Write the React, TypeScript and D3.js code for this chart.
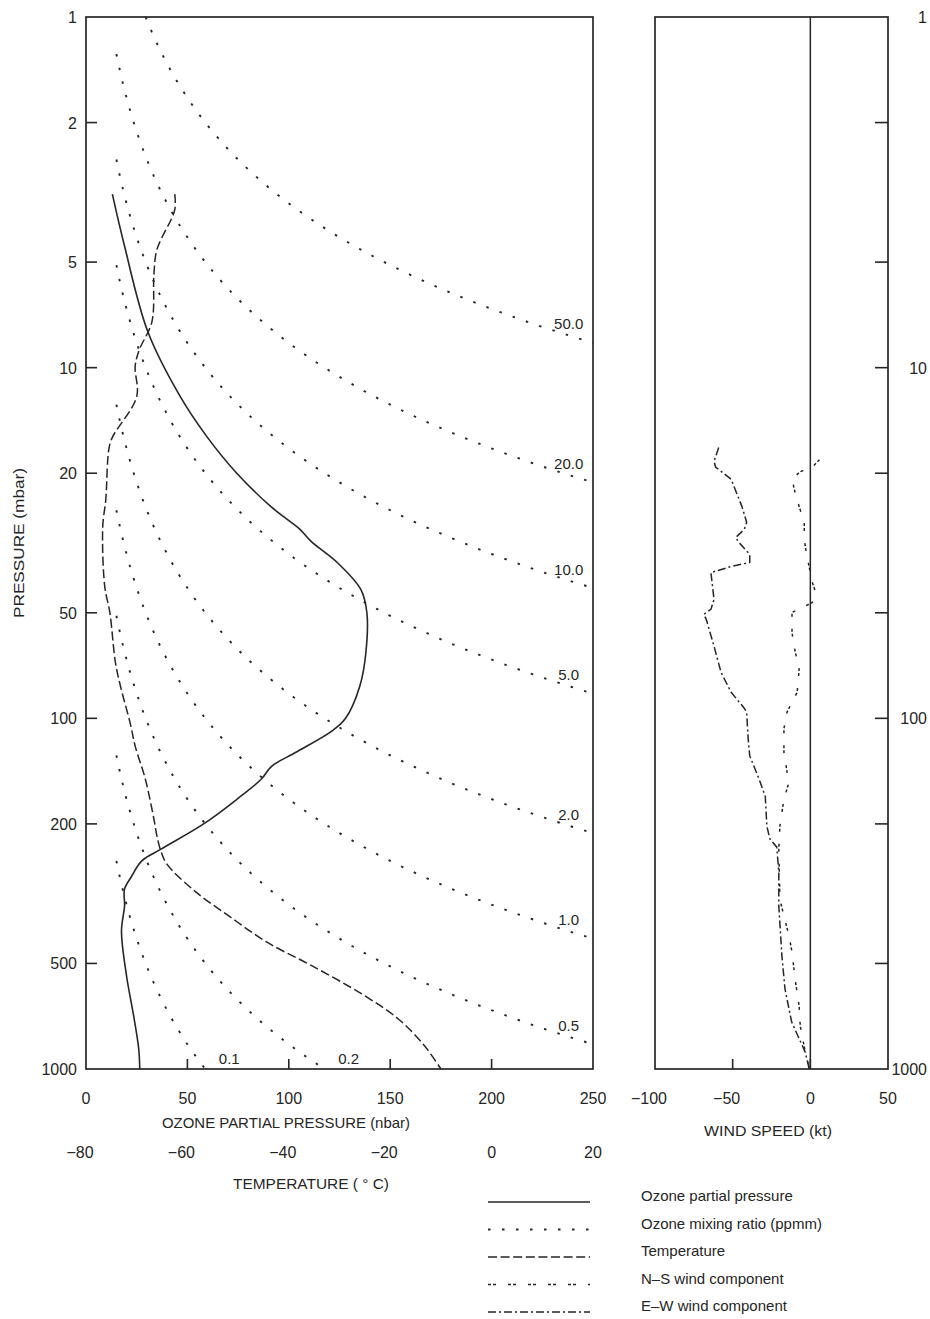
import React from "react";
import * as d3 from "d3";

// ozone partial pressure profile: [pressure mbar, ozone nbar]
const ozoneProfile: [number, number][] = [
  [3.2, 13], [4.5, 19], [7.9, 30.5], [12.1, 46.5], [15.7, 59.5], [19.9, 74], [25, 91.5],
  [28.9, 105.5], [31.3, 111], [36, 124], [42.9, 135.5], [50, 138.5], [65, 138], [81, 135],
  [100, 128], [109, 121], [125, 103.5], [137, 91.5], [149, 86.5], [170, 74.5], [200, 58],
  [236, 37], [255, 27.5], [282, 22.5], [307, 19], [343, 19], [404, 17.5], [543, 20],
  [706, 23.5], [877, 26], [1000, 26.5],
];

// temperature profile: [pressure mbar, temperature C]
const tempProfile: [number, number][] = [
  [3.2, -62.5], [3.55, -62.5], [4.6, -66], [5.4, -66.6], [7.4, -67], [8.9, -69.5],
  [9.9, -70.3], [12.1, -70], [15.8, -74.8], [17.1, -75.5], [23.8, -76.1], [28.4, -76.7],
  [42.1, -76.3], [49.9, -75.3], [69.2, -74.2], [81, -73.2], [103, -71.3], [120, -70.3],
  [149, -68.3], [194, -66.6], [217, -66], [240, -65.2], [261, -64], [313, -58.3],
  [369, -51.5], [435, -44.3], [509, -35.3], [611, -25.6], [720, -18.4], [860, -13.2],
  [1000, -10],
];

// E-W wind component: [pressure mbar, kt]
const ewWind: [number, number][] = [
  [16.9, -59], [18.5, -62], [19.2, -61], [20.8, -51], [24.9, -44], [27.6, -41], [28.9, -42.5],
  [30.5, -48], [31.5, -46], [34.1, -39], [35.9, -39], [36.9, -51], [38.4, -64], [45.8, -62],
  [48.9, -64], [50.5, -68.6], [52.2, -67], [62.3, -62], [73.9, -57.5], [84.3, -51], [93, -43],
  [96, -41], [115, -40], [128, -39], [149, -33], [167, -29], [203, -28], [221, -26],
  [233, -21.6], [275, -20.3], [343, -20.3], [476, -18.3], [592, -16.3], [735, -12],
  [895, -3.3], [1000, -0.7],
];

// N-S wind component: [pressure mbar, kt]
const nsWind: [number, number][] = [
  [18.3, 5.9], [19.2, 1.3], [19.8, -6.5], [20.8, -11.8], [22.7, -9.8], [24.9, -7.2],
  [27.6, -3.9], [30.9, -3.9], [33.7, -2.6], [37.1, -0.7], [41, 1.3], [43.5, 3.3], [46.7, 1.3],
  [48, -3.9], [49.9, -11.8], [56.9, -11.8], [62.3, -10.5], [72.5, -7.2], [84.3, -8.5],
  [96, -15], [107, -17], [125, -17], [142, -15], [152, -13.7], [170, -17], [203, -19.6],
  [236, -20.3], [328, -19.6], [366, -17], [418, -13.7], [464, -11.8], [554, -9.8],
  [662, -7.2], [754, -6.5], [865, -3.9], [1000, -0.7],
];

// mixing ratio isolines (ppmm) and the ones labelled along the bottom
const mixingRatios = [0.1, 0.2, 0.5, 1.0, 2.0, 5.0, 10.0, 20.0, 50.0];
const bottomLabelled = [0.1, 0.2];

const pressureTicks = [1, 2, 5, 10, 20, 50, 100, 200, 500, 1000];
const rightLabels = [1, 10, 100, 1000];
const ozoneTicks = [0, 50, 100, 150, 200, 250];
const tempTicks = [-80, -60, -40, -20, 0, 20];
const windTicks = [-100, -50, 0, 50];

const DOTS = "2.5,11.5";
const legendItems = [
  { label: "Ozone partial pressure", dash: "none" },
  { label: "Ozone mixing ratio (ppmm)", dash: DOTS },
  { label: "Temperature", dash: "9,3.6" },
  { label: "N\u2013S wind component", dash: "3,2,3,12" },
  { label: "E\u2013W wind component", dash: "8,3,2,3" },
];

const INK = "#262626";
const FONT = "'Liberation Sans', Arial, sans-serif";
const MMR_FACTOR = 1.7; // ppmm -> nbar per mbar

const fmt = (v: number) => (v < 0 ? "\u2212" + Math.abs(v) : String(v));

export default function App() {
  const W = 930;
  const H = 1319;

  const y = d3.scaleLog().domain([1, 1000]).range([17, 1069]);
  const xO = d3.scaleLinear().domain([0, 250]).range([86, 593]);
  const xT = d3.scaleLinear().domain([-80, 20]).range([86, 593]);
  const xW = d3.scaleLinear().domain([-100, 50]).range([655, 888]);

  const smooth = d3.curveCatmullRom.alpha(0.5);
  const ozoneLine = d3.line<[number, number]>().x((d) => xO(d[1])).y((d) => y(d[0])).curve(smooth);
  const isoLine = d3.line<[number, number]>().x((d) => xO(d[1])).y((d) => y(d[0]));
  const tempLine = d3.line<[number, number]>().x((d) => xT(d[1])).y((d) => y(d[0])).curve(smooth);
  const windLine = d3.line<[number, number]>().x((d) => xW(d[1])).y((d) => y(d[0]));

  // constant mixing ratio: ozone = r / factor * p, from 15 nbar (or 1 mbar) to the frame
  const isoline = (r: number) => {
    const k = r / MMR_FACTOR;
    const p0 = Math.max(1, 15 / k);
    const p1 = Math.min(1000, 250 / k);
    const pts: [number, number][] = d3.range(0, 61).map((i) => {
      const p = p0 * Math.pow(p1 / p0, i / 60);
      return [p, k * p];
    });
    return { path: isoLine(pts), k };
  };

  const [x0, x1] = xO.range();
  const [y0, y1] = y.range();
  const [w0, w1] = xW.range();

  return (
    <div style={{ position: "absolute", left: 0, top: 0, background: "#fff" }}>
      <svg width={W} height={H} style={{ display: "block" }} fontFamily={FONT}>
        <rect width={W} height={H} fill="#fff" />

        {/* mixing ratio isolines */}
        {mixingRatios.map((r) => {
          const iso = isoline(r);
          let lx: number, ly: number;
          if (bottomLabelled.includes(r)) {
            lx = xO(iso.k * 1000) + 24;
            ly = y(1000) - 5;
          } else {
            const oz = 238;
            lx = xO(oz);
            ly = y(oz / iso.k) - 6;
          }
          return (
            <g key={r}>
              <path d={iso.path ?? ""} fill="none" stroke={INK} strokeWidth={1.9} strokeDasharray={DOTS} />
              <text x={lx} y={ly} fontSize={15} fill={INK} textAnchor="middle">
                {r.toFixed(1)}
              </text>
            </g>
          );
        })}

        {/* profiles */}
        <path d={ozoneLine(ozoneProfile) ?? ""} fill="none" stroke={INK} strokeWidth={1.6} />
        <path d={tempLine(tempProfile) ?? ""} fill="none" stroke={INK} strokeWidth={1.5} strokeDasharray="9,3.6" />

        {/* left frame */}
        <rect x={x0} y={y0} width={x1 - x0} height={y1 - y0} fill="none" stroke={INK} strokeWidth={1.7} />
        {pressureTicks.slice(1, -1).map((p) => (
          <line key={p} x1={x0} x2={x0 + 11} y1={y(p)} y2={y(p)} stroke={INK} strokeWidth={1.6} />
        ))}
        {pressureTicks.map((p) => (
          <text key={p} x={77} y={y(p) + 6} fontSize={16} textAnchor="end" fill={INK}>
            {p}
          </text>
        ))}
        {ozoneTicks.slice(1, -1).map((v) => (
          <line key={v} x1={xO(v)} x2={xO(v)} y1={y1} y2={y1 - 10} stroke={INK} strokeWidth={1.6} />
        ))}
        {ozoneTicks.map((v) => (
          <text key={v} x={xO(v)} y={1104} fontSize={16} textAnchor="middle" fill={INK}>
            {v}
          </text>
        ))}
        <text x={286} y={1128} fontSize={15} textAnchor="middle" fill={INK} textLength={248} lengthAdjust="spacingAndGlyphs">
          OZONE PARTIAL PRESSURE (nbar)
        </text>
        {tempTicks.map((v) => (
          <text key={v} x={xT(v) - (v < 0 ? 6 : 0)} y={1158} fontSize={16} textAnchor="middle" fill={INK}>
            {fmt(v)}
          </text>
        ))}
        <text x={311} y={1189} fontSize={15} textAnchor="middle" fill={INK} textLength={156} lengthAdjust="spacingAndGlyphs">
          TEMPERATURE ( ° C)
        </text>
        <text
          transform={`translate(24,${(y0 + y1) / 2}) rotate(-90)`}
          fontSize={15}
          textAnchor="middle"
          fill={INK}
          textLength={150}
          lengthAdjust="spacingAndGlyphs"
        >
          PRESSURE (mbar)
        </text>

        {/* wind panel */}
        <line x1={xW(0)} x2={xW(0)} y1={y0} y2={y1} stroke={INK} strokeWidth={1.5} />
        <path d={windLine(ewWind) ?? ""} fill="none" stroke={INK} strokeWidth={1.5} strokeDasharray="8,3,2,3" />
        <path d={windLine(nsWind) ?? ""} fill="none" stroke={INK} strokeWidth={1.5} strokeDasharray="3,2,3,12" />
        <rect x={w0} y={y0} width={w1 - w0} height={y1 - y0} fill="none" stroke={INK} strokeWidth={1.7} />
        {pressureTicks.slice(1, -1).map((p) => (
          <line key={p} x1={w1} x2={w1 - 13} y1={y(p)} y2={y(p)} stroke={INK} strokeWidth={1.6} />
        ))}
        {rightLabels.map((p) => (
          <text key={p} x={927} y={y(p) + 6} fontSize={16} textAnchor="end" fill={INK}>
            {p}
          </text>
        ))}
        {windTicks.slice(1, -1).map((v) => (
          <line key={v} x1={xW(v)} x2={xW(v)} y1={y1} y2={y1 - 10} stroke={INK} strokeWidth={1.6} />
        ))}
        {windTicks.map((v) => (
          <text key={v} x={xW(v) - (v < 0 ? 6 : 0)} y={1104} fontSize={16} textAnchor="middle" fill={INK}>
            {fmt(v)}
          </text>
        ))}
        <text x={768} y={1136} fontSize={15} textAnchor="middle" fill={INK} textLength={128} lengthAdjust="spacingAndGlyphs">
          WIND SPEED (kt)
        </text>

        {/* legend */}
        {legendItems.map((item, i) => {
          const ty = 1201 + i * 27.5;
          return (
            <g key={item.label}>
              <line
                x1={488}
                x2={590}
                y1={ty + 1}
                y2={ty + 1}
                stroke={INK}
                strokeWidth={item.dash === DOTS ? 1.9 : 1.5}
                strokeDasharray={item.dash}
              />
              <text x={641} y={ty} fontSize={15} fill={INK}>
                {item.label}
              </text>
            </g>
          );
        })}
      </svg>
    </div>
  );
}
